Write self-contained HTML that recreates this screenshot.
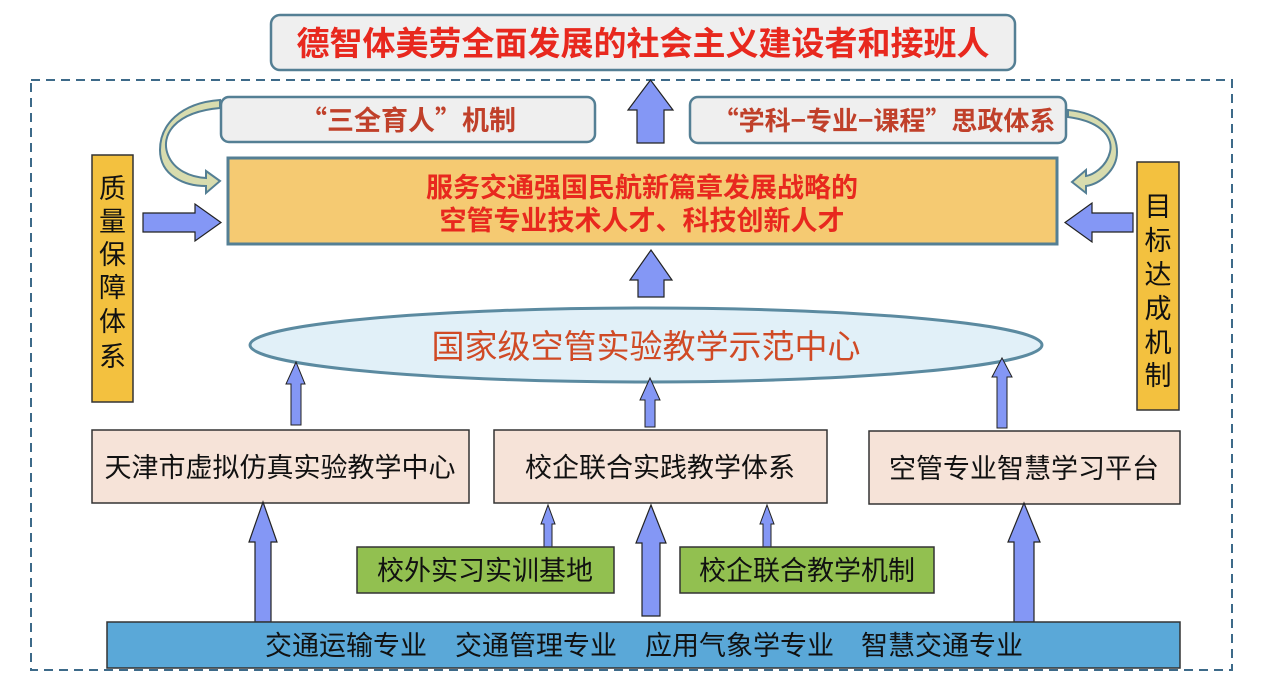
<!DOCTYPE html>
<html><head><meta charset="utf-8"><style>
body{margin:0;background:#fff}
svg{display:block}
text{font-family:"Liberation Sans","Noto Sans CJK SC",sans-serif}
.cjk{font-family:"Noto Sans CJK SC",sans-serif}
</style></head><body>
<svg width="1269" height="690" viewBox="0 0 1269 690" xmlns="http://www.w3.org/2000/svg">
<rect x="31" y="80" width="1201" height="590" fill="none" stroke="#3d6a89" stroke-width="2" stroke-dasharray="9,6"/>
<rect x="271" y="15" width="744" height="55" rx="9" fill="#efefef" stroke="#547f94" stroke-width="2.5"/>
<text x="643" y="55" text-anchor="middle" font-size="33" font-weight="bold" fill="#e8281e">德智体美劳全面发展的社会主义建设者和接班人</text>
<path d="M637,143 L637,110 L628,110 L650.5,80 L673,110 L664,110 L664,143 Z" fill="#8497f5" stroke="#222" stroke-width="1.2"/>
<rect x="221" y="97" width="374" height="45" rx="8" fill="#efefef" stroke="#547f94" stroke-width="2.5"/>
<text x="408" y="130" text-anchor="middle" font-size="27" font-weight="bold" fill="#c0402a" class="cjk">“三全育人”机制</text>
<rect x="690" y="97" width="376" height="46" rx="8" fill="#efefef" stroke="#547f94" stroke-width="2.5"/>
<text x="884" y="130" text-anchor="middle" font-size="26" font-weight="bold" fill="#c0402a" class="cjk">“学科−专业−课程”思政体系</text>
<path d="M220,108 C175,112 160,135 168,155 C174,170 190,177 206,178 L206,171 L220,181 L206,193 L206,186 C185,186 160,176 160,150 C160,125 180,103 220,100 Z" fill="#d8dcae" stroke="#547f94" stroke-width="2"/>
<path d="M1068,117 C1105,122 1113,140 1110,152 C1106,168 1092,175 1086,176 L1086,170 L1072,182 L1086,193 L1086,186 C1100,184 1117,170 1117,152 C1117,130 1100,113 1068,110 Z" fill="#d8dcae" stroke="#547f94" stroke-width="2"/>
<rect x="228" y="158" width="829" height="86" fill="#f5ca72" stroke="#547f94" stroke-width="3"/>
<text x="642" y="197" text-anchor="middle" font-size="27" font-weight="bold" fill="#e8281e">服务交通强国民航新篇章发展战略的</text>
<text x="642" y="230" text-anchor="middle" font-size="27" font-weight="bold" fill="#e8281e">空管专业技术人才、科技创新人才</text>
<rect x="92" y="155" width="41" height="247" fill="#f3c13f" stroke="#333" stroke-width="1.5"/>
<text font-size="27" fill="#111" text-anchor="middle"><tspan x="112.5" y="198">质</tspan><tspan x="112.5" y="231">量</tspan><tspan x="112.5" y="264">保</tspan><tspan x="112.5" y="297">障</tspan><tspan x="112.5" y="331">体</tspan><tspan x="112.5" y="366">系</tspan></text>
<rect x="1137" y="162" width="42" height="248" fill="#f3c13f" stroke="#333" stroke-width="1.5"/>
<text font-size="27" fill="#111" text-anchor="middle"><tspan x="1158" y="216">目</tspan><tspan x="1158" y="250">标</tspan><tspan x="1158" y="284">达</tspan><tspan x="1158" y="318">成</tspan><tspan x="1158" y="352">机</tspan><tspan x="1158" y="385">制</tspan></text>
<path d="M143,213 L195,213 L195,204 L221,222.5 L195,241 L195,232 L143,232 Z" fill="#8497f5" stroke="#222" stroke-width="1.2"/>
<path d="M1133,213 L1092,213 L1092,203 L1065,222.5 L1092,242 L1092,232 L1133,232 Z" fill="#8497f5" stroke="#222" stroke-width="1.2"/>
<path d="M638,297 L638,280 L630,280 L651,250 L672,280 L664,280 L664,297 Z" fill="#8497f5" stroke="#222" stroke-width="1.2"/>
<ellipse cx="646" cy="345" rx="396" ry="37" fill="#e1f0f8" stroke="#5b8aa0" stroke-width="3"/>
<text x="646" y="358" text-anchor="middle" font-size="33" fill="#d04a25">国家级空管实验教学示范中心</text>
<path d="M291,425 L291,384 L286,384 L296,362 L305,384 L301,384 L301,425 Z" fill="#8497f5" stroke="#222" stroke-width="1"/>
<path d="M645,427 L645,400 L640,400 L650,378 L660,400 L655,400 L655,427 Z" fill="#8497f5" stroke="#222" stroke-width="1"/>
<path d="M997,428 L997,377 L992,377 L1002,358 L1012,377 L1007,377 L1007,428 Z" fill="#8497f5" stroke="#222" stroke-width="1"/>
<rect x="92" y="430" width="377" height="73" fill="#f6e3d8" stroke="#333" stroke-width="1.5"/>
<text x="280" y="477" text-anchor="middle" font-size="27" fill="#111">天津市虚拟仿真实验教学中心</text>
<rect x="494" y="430" width="333" height="73" fill="#f6e3d8" stroke="#333" stroke-width="1.5"/>
<text x="660" y="477" text-anchor="middle" font-size="27" fill="#111">校企联合实践教学体系</text>
<rect x="869" y="431" width="311" height="73" fill="#f6e3d8" stroke="#333" stroke-width="1.5"/>
<text x="1024" y="478" text-anchor="middle" font-size="27" fill="#111">空管专业智慧学习平台</text>
<path d="M255,622 L255,542 L249,542 L263,502 L277,542 L271,542 L271,622 Z" fill="#8497f5" stroke="#222" stroke-width="1.2"/>
<path d="M642,616 L642,543 L636,543 L651,505 L666,543 L660,543 L660,616 Z" fill="#8497f5" stroke="#222" stroke-width="1.2"/>
<path d="M1014,622 L1014,542 L1008,542 L1024,503 L1040,542 L1034,542 L1034,622 Z" fill="#8497f5" stroke="#222" stroke-width="1.2"/>
<path d="M544,547 L544,524 L541,524 L548,505 L555,524 L552,524 L552,547 Z" fill="#8497f5" stroke="#222" stroke-width="1"/>
<path d="M763,547 L763,524 L760,524 L767,505 L774,524 L771,524 L771,547 Z" fill="#8497f5" stroke="#222" stroke-width="1"/>
<rect x="357" y="547" width="257" height="46" fill="#92c050" stroke="#333" stroke-width="1.5"/>
<text x="485" y="580" text-anchor="middle" font-size="27" fill="#111">校外实习实训基地</text>
<rect x="680" y="547" width="254" height="46" fill="#92c050" stroke="#333" stroke-width="1.5"/>
<text x="807" y="580" text-anchor="middle" font-size="27" fill="#111">校企联合教学机制</text>
<rect x="107" y="622" width="1073" height="46" fill="#5aa8d8" stroke="#333" stroke-width="1.5"/>
<text y="655" font-size="27" fill="#111"><tspan x="265">交通运输专业</tspan><tspan x="455">交通管理专业</tspan><tspan x="645">应用气象学专业</tspan><tspan x="861">智慧交通专业</tspan></text>
</svg>
</body></html>
